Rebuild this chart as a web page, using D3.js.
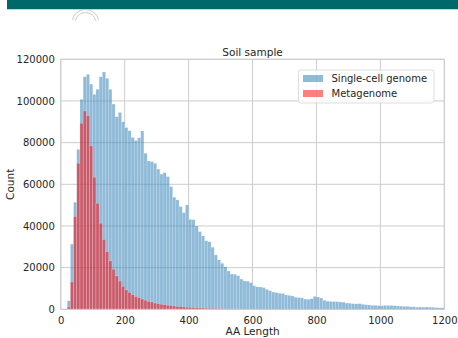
<!DOCTYPE html>
<html>
<head>
<meta charset="utf-8">
<script src="https://cdn.jsdelivr.net/npm/d3@7"></script>
<style>
  body { margin: 0; background: #fff; }
  svg { display: block; font-family: "DejaVu Sans", sans-serif; }
</style>
</head>
<body>
<figure id="histChart" style="margin:0"></figure>
<script>
// Histogram bins: 10 AA wide, starting at 0
const binWidth = 10;
const singleCellCounts = [
  0, 0, 4100, 31300, 51400, 76800, 100800, 111600, 112800, 108100,
  103200, 105600, 111600, 113900, 110900, 105600, 98500, 92400, 94500, 90000,
  87200, 85700, 82500, 81000, 82300, 85600, 74900, 71200, 70900, 70100,
  67300, 64900, 65600, 63700, 58900, 53800, 52500, 49300, 46400, 50100,
  43200, 43000, 40000, 37300, 35200, 32900, 32400, 29800, 26100, 23700,
  22100, 20400, 18400, 16900, 16800, 16100, 14500, 13600, 13500, 12800,
  11300, 10800, 10700, 10400, 9600, 8900, 8300, 8000, 7700, 7600,
  6900, 6700, 6400, 5800, 5600, 5500, 4900, 4800, 5100, 6200,
  5900, 5400, 4300, 3900, 3800, 3700, 3700, 3500, 3400, 3000,
  2900, 2700, 2600, 2700, 2400, 2200, 2100, 1900, 1900, 1700,
  1700, 1900, 1800, 1800, 1700, 1600, 1500, 1400, 1400, 1200,
  1200, 1000, 1100, 1000, 1100, 1000, 1000, 800, 700, 700
];
const metagenomeCounts = [
  0, 0, 1000, 13100, 44500, 70100, 89300, 95200, 92900, 78400,
  63400, 50900, 41300, 33500, 27600, 23200, 19200, 16000, 13500, 11000,
  9300, 8100, 7000, 6100, 5600, 4900, 4300, 3800, 3500, 3000,
  2700, 2400, 2200, 1900, 1800, 1600, 1400, 1300, 1100, 1000,
  900, 800, 700, 650, 600, 500, 450, 400, 350, 300,
  250, 200, 180, 150, 120, 100, 80, 60, 50, 40, 30
];
const xTicks = [0, 200, 400, 600, 800, 1000, 1200];
const yTicks = [0, 20000, 40000, 60000, 80000, 100000, 120000];
const seriesNames = ['Single-cell genome', 'Metagenome'];
const seriesColors = ['#1f77b4', '#ff0000'];

const W = 458, H = 338;
const margin = { top: 59.3, left: 60.8, right: 13.7, bottom: 28.7 };
const width = W - margin.left - margin.right;
const height = H - margin.top - margin.bottom;

const svg = d3.select('figure#histChart')
  .append('svg')
  .attr('width', W)
  .attr('height', H);

// header band and faint logo arcs
svg.append('rect').attr('x', 7).attr('y', 0).attr('width', W - 7).attr('height', 9).attr('fill', '#006868');
svg.append('rect').attr('x', 7).attr('y', 9).attr('width', W - 7).attr('height', 0.8).attr('fill', '#9fd3d3');
[13.5, 10.5].forEach(r => {
  svg.append('path')
    .attr('d', d3.arc()({ innerRadius: r, outerRadius: r, startAngle: -Math.PI / 2 * 0.85, endAngle: Math.PI / 2 * 0.85 }))
    .attr('transform', 'translate(85.5,23)')
    .attr('fill', 'none')
    .attr('stroke', '#c8c8c8')
    .attr('stroke-width', 0.6);
});

const g = svg.append('g').attr('transform', `translate(${margin.left},${margin.top})`);

const x = d3.scaleLinear().domain([0, 1200]).range([0, width]);
const y = d3.scaleLinear().domain([0, 120000]).range([height, 0]);

// grid
g.append('g').selectAll('line').data(xTicks).enter().append('line')
  .attr('x1', d => x(d)).attr('x2', d => x(d)).attr('y1', 0).attr('y2', height)
  .attr('stroke', '#cccccc').attr('stroke-width', 1);
g.append('g').selectAll('line').data(yTicks).enter().append('line')
  .attr('x1', 0).attr('x2', width).attr('y1', d => y(d)).attr('y2', d => y(d))
  .attr('stroke', '#cccccc').attr('stroke-width', 1);

// bars
function drawBars(counts, color) {
  g.append('g').selectAll('rect')
    .data(counts.map((c, i) => ({ x0: i * binWidth, c })).filter(d => d.c > 0))
    .enter().append('rect')
    .attr('x', d => x(d.x0))
    .attr('y', d => y(d.c))
    .attr('width', x(binWidth) - x(0))
    .attr('height', d => height - y(d.c))
    .attr('fill', color)
    .attr('fill-opacity', 0.5)
    .attr('stroke', '#ffffff')
    .attr('stroke-opacity', 0.35)
    .attr('stroke-width', 0.5);
}
drawBars(singleCellCounts, seriesColors[0]);
drawBars(metagenomeCounts, seriesColors[1]);

// frame
g.append('rect').attr('width', width).attr('height', height)
  .attr('fill', 'none').attr('stroke', '#cccccc').attr('stroke-width', 1);

// axes
const xAxis = g.append('g').attr('transform', `translate(0,${height})`)
  .call(d3.axisBottom(x).tickValues(xTicks).tickSize(0).tickPadding(8).tickFormat(d3.format('d')));
const yAxis = g.append('g')
  .call(d3.axisLeft(y).tickValues(yTicks).tickSize(0).tickPadding(6).tickFormat(d3.format('d')));
[xAxis, yAxis].forEach(a => {
  a.select('.domain').remove();
  a.selectAll('text').attr('font-size', 10).attr('fill', '#262626').attr('font-family', 'DejaVu Sans');
});

// labels
svg.append('text').attr('x', margin.left + width / 2).attr('y', 56)
  .attr('text-anchor', 'middle').attr('font-size', 10.5).attr('fill', '#262626').text('Soil sample');
svg.append('text').attr('x', margin.left + width / 2).attr('y', 335)
  .attr('text-anchor', 'middle').attr('font-size', 10.5).attr('fill', '#262626').text('AA Length');
svg.append('text').attr('transform', `translate(14,${margin.top + height / 2}) rotate(-90)`)
  .attr('text-anchor', 'middle').attr('font-size', 10.5).attr('fill', '#262626').text('Count');

// legend
const lg = svg.append('g').attr('transform', 'translate(298.5,70)');
lg.append('rect').attr('width', 135.5).attr('height', 33).attr('rx', 2.5)
  .attr('fill', '#fff').attr('fill-opacity', 0.8).attr('stroke', '#d6d6d6').attr('stroke-width', 0.8);
seriesNames.forEach((name, i) => {
  lg.append('rect').attr('x', 4.5).attr('y', 5 + i * 15).attr('width', 20).attr('height', 7)
    .attr('fill', seriesColors[i]).attr('fill-opacity', 0.5);
  lg.append('text').attr('x', 33).attr('y', 8.5 + i * 15).attr('dy', '0.35em')
    .attr('font-size', 10).attr('fill', '#262626').text(name);
});
</script>
</body>
</html>
